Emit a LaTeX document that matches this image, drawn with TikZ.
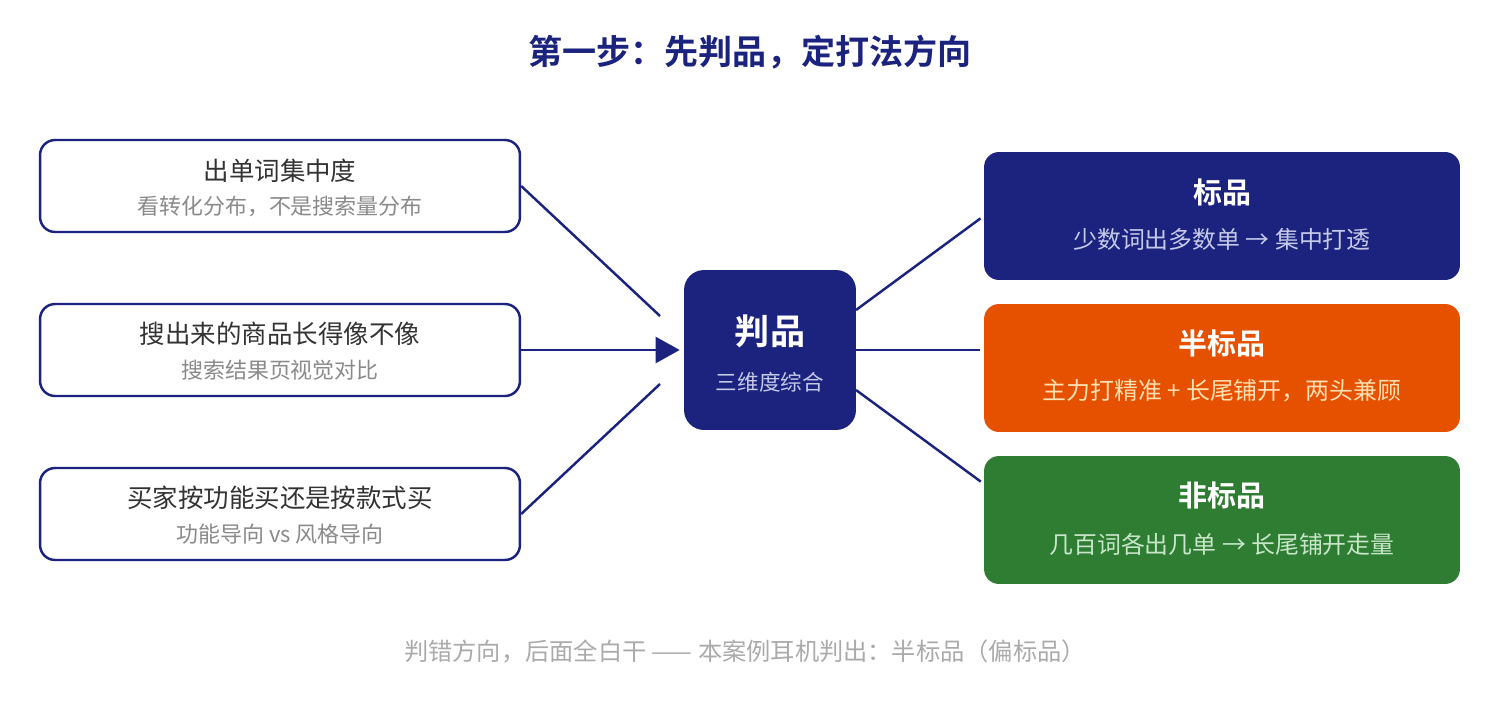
\documentclass[tikz,border=0pt]{standalone}
\usepackage{fontspec}
\setmainfont{Noto Sans CJK SC}[BoldFont={Noto Sans CJK SC Bold}]
\usetikzlibrary{arrows.meta}
\definecolor{navy}{HTML}{1B237E}
\definecolor{rust}{HTML}{E65100}
\definecolor{leaf}{HTML}{2E7D32}
\definecolor{ink}{HTML}{333333}
\definecolor{mute}{HTML}{8A8A8A}
\definecolor{faint}{HTML}{AAAAAA}
\definecolor{navysub}{HTML}{C5CAE9}
\definecolor{rustsub}{HTML}{FFE0B2}
\definecolor{leafsub}{HTML}{C8E6C9}

\begin{document}
\begin{tikzpicture}[x=0.02cm,y=-0.02cm]
    \tikzset{
        every node/.style={inner sep=0pt},
        factor/.style={draw=navy,line width=1.4pt,fill=white,rounded corners=0.3cm,
            minimum width=9.6cm,minimum height=1.84cm},
        judgebox/.style={fill=navy,rounded corners=0.4cm,minimum width=3.44cm,minimum height=3.2cm},
        kind/.style={fill=#1,rounded corners=0.3cm,minimum width=9.52cm,minimum height=2.56cm},
        link/.style={navy,line width=1.4pt},
        fmain/.style={text=ink,font=\fontsize{14.5}{17}\selectfont},
        fsub/.style={text=mute,font=\fontsize{12.5}{15}\selectfont},
        khead/.style={text=white,font=\fontsize{16.5}{20}\selectfont\bfseries},
        ksub/.style={text=#1,font=\fontsize{13.6}{16}\selectfont}
    }
    \useasboundingbox (0,0) rectangle (1500,700);
    % title
    \node (title) [text=navy,font=\fontsize{19.4}{23}\selectfont\bfseries] at (750,52) {第一步：先判品，定打法方向};
    % left: three questions
    \node (q1) [factor] at (280,186) {};
    \node (q1t) [fmain] at (280,171) {出单词集中度};
    \node (q1s) [fsub] at (280,206) {看转化分布，不是搜索量分布};
    \node (q2) [factor] at (280,350) {};
    \node (q2t) [fmain] at (280,334) {搜出来的商品长得像不像};
    \node (q2s) [fsub] at (280,370) {搜索结果页视觉对比};
    \node (q3) [factor] at (280,514) {};
    \node (q3t) [fmain] at (280,498) {买家按功能买还是按款式买};
    \node (q3s) [fsub] at (280,534) {功能导向 vs 风格导向};
    % middle
    \node (judge) [judgebox] at (770,350) {};
    \node (judget) [text=white,font=\fontsize{20}{24}\selectfont\bfseries] at (770,331) {判品};
    \node (judges) [text=navysub,font=\fontsize{12.3}{15}\selectfont] at (770,382) {三维度综合};
    % right: three kinds
    \node (pure) [kind=navy] at (1222,216) {};
    \node (puret) [khead] at (1222,192) {标品};
    \node (pures) [ksub=navysub] at (1222,239) {少数词出多数单 → 集中打透};
    \node (half) [kind=rust] at (1222,368) {};
    \node (halft) [khead] at (1222,343) {半标品};
    \node (halfs) [ksub=rustsub] at (1222,391) {主力打精准 + 长尾铺开，两头兼顾};
    \node (free) [kind=leaf] at (1222,520) {};
    \node (freet) [khead] at (1222,495) {非标品};
    \node (frees) [ksub=leafsub] at (1222,544) {几百词各出几单 → 长尾铺开走量};
    % footer
    \node (note) [text=faint,font=\fontsize{13.8}{16}\selectfont] at (745,651) {判错方向，后面全白干 —— 本案例耳机判出：半标品（偏标品）};
    % connectors
    \coordinate (in1) at (660,316);
    \coordinate (in3) at (660,384);
    \coordinate (out1) at (856,310);
    \coordinate (out3) at (856,390);
    \coordinate (to3) at (984,484);
    \draw [link] (q1.east) -- (in1);
    \draw [link,-{Triangle[length=0.48cm,width=0.52cm]},shorten >=0.08cm] (q2.east) -- (judge.west);
    \draw [link] (q3.east) -- (in3);
    \draw [link,shorten >=0.08cm] (out1) -- (pure.west);
    \draw [link,shorten >=0.08cm] (judge.east) -- (half.west |- judge.east);
    \draw [link,shorten >=0.08cm] (out3) -- (to3);
\end{tikzpicture}
\end{document}
